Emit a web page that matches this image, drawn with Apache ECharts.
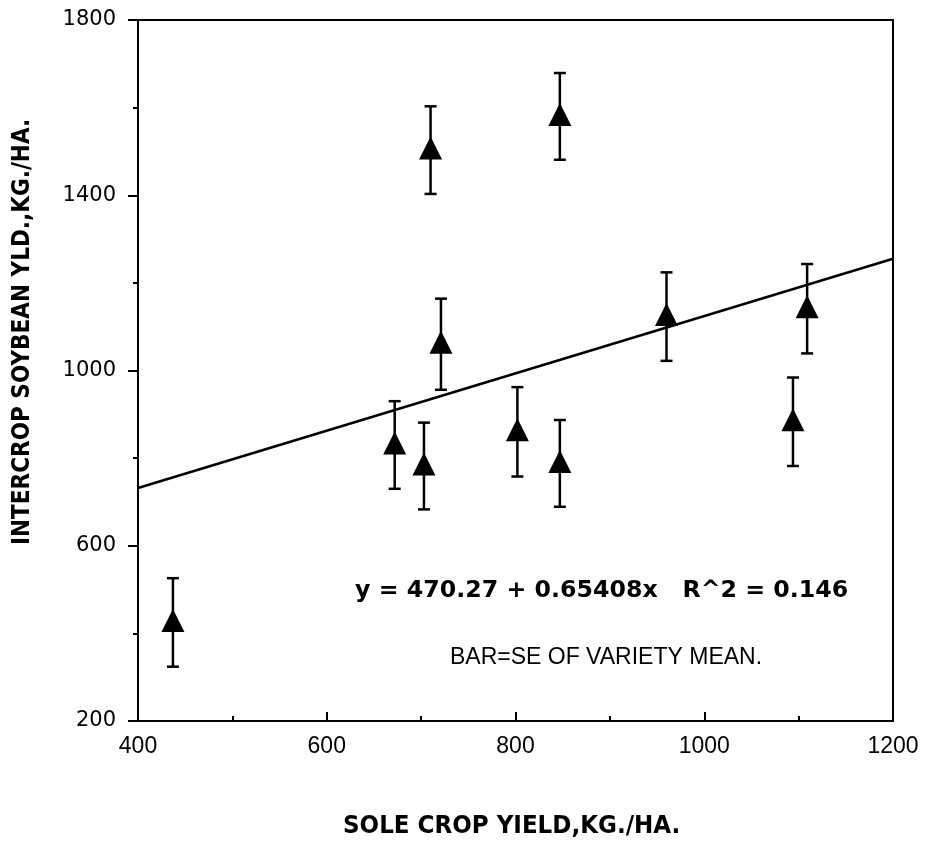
<!DOCTYPE html>
<html>
<head>
<meta charset="utf-8">
<script src="https://cdn.jsdelivr.net/npm/echarts@6/dist/echarts.min.js"></script>
<style>html,body{margin:0;padding:0;background:#fff}#c{width:925px;height:864px}</style>
</head>
<body>
<div id="c"></div>
<script>
// Sole crop yield (x), intercrop soybean yield mean (y), standard error (se)
var soleYield = [437, 672, 703, 710, 721, 802, 847, 847, 960, 1094, 1109];
var interYield = [425, 830, 782, 1503, 1060, 860, 1580, 788, 1123, 883, 1141];
var seValues  = [101, 100, 99, 100, 104, 102, 99, 99, 101, 101, 102];
var xTicks = [400, 600, 800, 1000, 1200];
var yTicks = [200, 600, 1000, 1400, 1800];
var fitCoef = [470.27, 0.65408]; // intercept, slope
var eqText = 'y = 470.27 + 0.65408x   R^2 = 0.146';
var noteText = 'BAR=SE OF VARIETY MEAN.';
var xTitle = 'SOLE CROP YIELD,KG./HA.';
var yTitle = 'INTERCROP SOYBEAN YLD.,KG./HA.';

var pts = soleYield.map(function (x, i) { return [x, interYield[i]]; });
var errData = soleYield.map(function (x, i) { return [x, interYield[i] - seValues[i], interYield[i] + seValues[i]]; });
var xMin = xTicks[0], xMax = xTicks[xTicks.length - 1];
var fitLine = [[xMin, fitCoef[0] + fitCoef[1] * xMin], [xMax, fitCoef[0] + fitCoef[1] * xMax]];

var chart = echarts.init(document.getElementById('c'));
chart.setOption({
  animation: false,
  backgroundColor: '#fff',
  grid: { left: 138, right: 32, top: 20, bottom: 143, show: true, borderColor: '#000', borderWidth: 2, backgroundColor: 'transparent' },
  xAxis: {
    type: 'value', min: xMin, max: xMax, interval: 200,
    axisLine: { lineStyle: { color: '#000', width: 2 } },
    axisTick: { inside: true, length: 9, lineStyle: { color: '#000', width: 2 } },
    minorTick: { show: true, splitNumber: 2, length: 5, lineStyle: { color: '#000', width: 2 } },
    splitLine: { show: false },
    axisLabel: { margin: 14, color: '#000', fontSize: 23, formatter: function (v) { return String(v); },
      fontFamily: 'Liberation Sans, sans-serif' }
  },
  yAxis: {
    type: 'value', min: yTicks[0], max: yTicks[yTicks.length - 1], interval: 400,
    axisLine: { lineStyle: { color: '#000', width: 2 } },
    axisTick: { inside: false, length: 10, lineStyle: { color: '#000', width: 2 } },
    minorTick: { show: true, splitNumber: 2, length: 5, lineStyle: { color: '#000', width: 2 } },
    splitLine: { show: false },
    axisLabel: { margin: 22, color: '#000', fontSize: 21, formatter: function (v) { return String(v); },
      fontFamily: 'DejaVu Sans, sans-serif' }
  },
  series: [
    {
      type: 'line', data: fitLine, symbol: 'none', silent: true,
      lineStyle: { color: '#000', width: 2.5 }, z: 2
    },
    {
      type: 'custom', data: errData, z: 3,
      renderItem: function (params, api) {
        var x = api.value(0);
        var lo = api.coord([x, api.value(1)]);
        var hi = api.coord([x, api.value(2)]);
        var cw = 6;
        var st = { stroke: '#000', lineWidth: 2.5 };
        return {
          type: 'group',
          children: [
            { type: 'line', shape: { x1: lo[0], y1: lo[1], x2: hi[0], y2: hi[1] }, style: st },
            { type: 'line', shape: { x1: lo[0] - cw, y1: lo[1], x2: lo[0] + cw, y2: lo[1] }, style: st },
            { type: 'line', shape: { x1: hi[0] - cw, y1: hi[1], x2: hi[0] + cw, y2: hi[1] }, style: st }
          ]
        };
      }
    },
    {
      type: 'scatter', data: pts, symbol: 'triangle', symbolSize: [23, 23], symbolOffset: [0, -2],
      itemStyle: { color: '#000', opacity: 1 }, z: 4
    }
  ],
  graphic: [
    { type: 'text', left: 355, top: 579, style: { text: eqText, fill: '#000', font: 'bold 23.7px "DejaVu Sans", sans-serif' } },
    { type: 'text', left: 450, top: 646, style: { text: noteText, fill: '#000', font: '23px "Liberation Sans", sans-serif' } },
    { type: 'text', left: 343, top: 813, style: { text: xTitle, fill: '#000', font: 'bold 25.6px "Liberation Sans Narrow", "DejaVu Sans Condensed", sans-serif' } },
    { type: 'text', x: 11, y: 545, rotation: Math.PI / 2, style: { text: yTitle, fill: '#000', font: 'bold 24px "Liberation Sans Narrow", "DejaVu Sans Condensed", sans-serif', verticalAlign: 'top', align: 'left' } }
  ]
});
</script>
</body>
</html>
